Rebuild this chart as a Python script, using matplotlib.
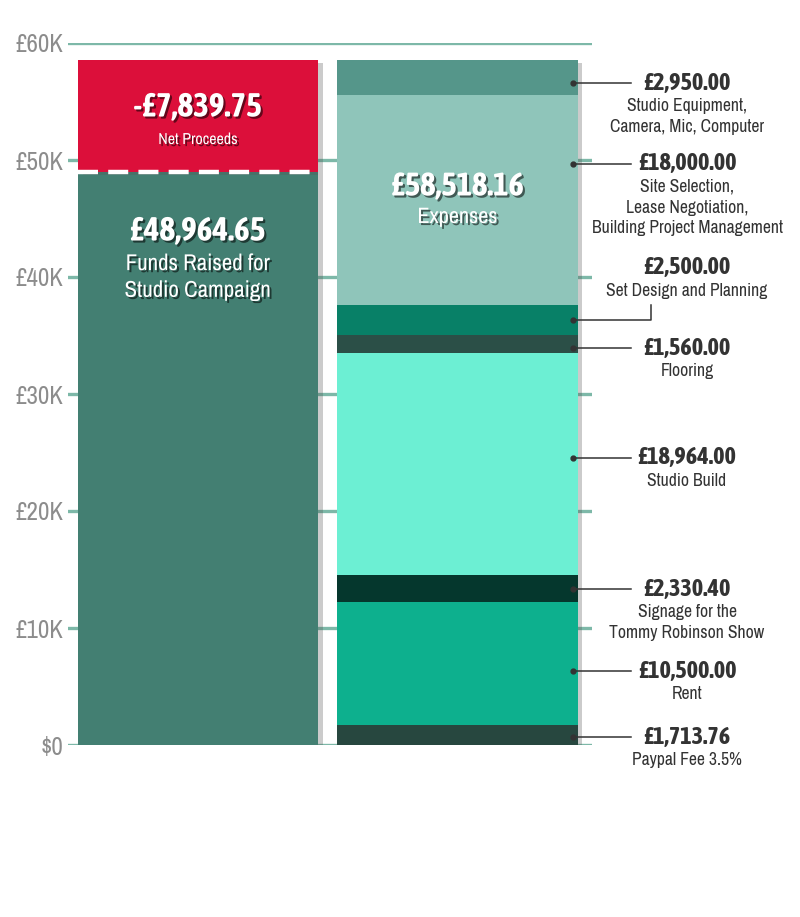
import matplotlib
matplotlib.use('Agg')
import matplotlib.pyplot as plt
import matplotlib.patheffects as pe
from matplotlib import font_manager
from matplotlib.font_manager import FontProperties
import numpy as np

# fonts: the original uses a condensed upright face; pick a regular and a bold one
def wnum(w):
    return w if isinstance(w, (int, float)) else font_manager.weight_dict.get(w, 400)

faces = [f for f in font_manager.fontManager.ttflist
         if ('Narrow' in f.name or 'Condensed' in f.name or 'condensed' in str(f.stretch))
         and f.style == 'normal']
faces.sort(key=lambda f: (f.name, f.fname))
regs = sorted(faces, key=lambda f: (abs(wnum(f.weight) - 400), f.name))
reg_face = regs[0] if regs else None
bolds = [f for f in faces if wnum(f.weight) >= 600]
if reg_face is not None:
    same = [f for f in bolds if f.name == reg_face.name]
    bolds = same or bolds
bolds.sort(key=lambda f: (abs(wnum(f.weight) - 700), f.name))
bold_face = bolds[0] if bolds else reg_face


def fp(size, bold=False):
    face = bold_face if bold else reg_face
    if face is None:
        return FontProperties(family='Roboto', size=size, weight='bold' if bold else 'normal')
    return FontProperties(fname=face.fname, size=size)


# left bar
funds_raised = 48964.65
net_proceeds = -7839.75

# right bar, bottom to top
exp_amounts = [1713.76, 10500.00, 2330.40, 18964.00, 1560.00, 2500.00, 18000.00, 2950.00]
exp_labels = ['Paypal Fee 3.5%', 'Rent', 'Signage for the\nTommy Robinson Show', 'Studio Build',
              'Flooring', 'Set Design and Planning',
              'Site Selection,\nLease Negotiation,\nBuilding Project Management',
              'Studio Equipment,\nCamera, Mic, Computer']
exp_colors = ['#27473f', '#0db08e', '#05372d', '#6cefd3', '#2b4f47', '#088067', '#8fc5ba', '#55968a']
# where the callouts sit (data units)
label_y = [680, 6320, 13330, 24530, 33930, 40770, 49660, 56580]

ticks = [0, 10000, 20000, 30000, 40000, 50000, 60000]
tick_labels = ['\\$0', '£10K', '£20K', '£30K', '£40K', '£50K', '£60K']

total_exp = sum(exp_amounts)

fig = plt.figure(figsize=(8, 9.17), dpi=100)
ax = fig.add_axes([0.085, 1 - 745 / 917, 0.655, 702 / 917])
ax.set_xlim(-0.5, 1.518)
ax.set_ylim(0, 60000)

for t in ticks:
    ax.axhline(t, color='#7db8a8', lw=2.4, zorder=0)

W = 0.925
shadow = [pe.SimplePatchShadow(offset=(3.5, -2), shadow_rgbFace='#555555', alpha=0.3), pe.Normal()]

ax.bar(0, funds_raised, width=W, color='#437f72', zorder=2, path_effects=shadow)
ax.bar(0, total_exp - funds_raised, bottom=funds_raised, width=W, color='#dc0f3a',
       zorder=2, path_effects=shadow)
ax.plot([-W / 2, W / 2], [funds_raised, funds_raised], color='white', lw=3.2,
        dashes=(4.5, 2.3), zorder=3, solid_capstyle='butt')

bottoms = np.concatenate([[0], np.cumsum(exp_amounts)[:-1]])
ax.bar([1] * len(exp_amounts), exp_amounts, bottom=bottoms, width=W, color=exp_colors,
       zorder=2)
# one shadow for the whole stack
ax.bar(1, total_exp, width=W, color='none', zorder=1,
       path_effects=[pe.SimplePatchShadow(offset=(3.5, -2), shadow_rgbFace='#555555', alpha=0.3)])

txt_shadow = [pe.withSimplePatchShadow(offset=(1.5, -1.5), shadow_rgbFace='black', alpha=0.55)]

def inner(x, y, s, size, bold=False, ls=1.2):
    ax.text(x, y, s, ha='center', va='center', color='white', fontproperties=fp(size, bold),
            path_effects=txt_shadow, zorder=5, linespacing=ls)

inner(0, 54530, '-£{:,.2f}'.format(abs(net_proceeds)), 24, True)
inner(0, 51750, 'Net Proceeds', 11.5)
inner(0, 43930, '£{:,.2f}'.format(funds_raised), 24, True)
inner(0, 39960, 'Funds Raised for\nStudio Campaign', 16.5, ls=1.42)
inner(1, 47780, '£{:,.2f}'.format(total_exp), 23.5, True)
inner(1, 45130, 'Expenses', 16)

dot_x = 1.445
line_x = 1.67
text_x = 1.884
for i, amt in enumerate(exp_amounts):
    y = label_y[i]
    if exp_labels[i].startswith('Set Design'):
        ym = bottoms[i] + amt / 2
        ax.plot([dot_x, 1.746, 1.746], [ym, ym, 37600], color='#333333', lw=1.1,
                clip_on=False, zorder=6)
        ax.plot(dot_x, ym, 'o', ms=3.5, color='#333333', clip_on=False, zorder=6)
    else:
        ax.plot([dot_x, line_x], [y, y], color='#333333', lw=1.1, clip_on=False, zorder=6)
        ax.plot(dot_x, y, 'o', ms=3.5, color='#333333', clip_on=False, zorder=6)
    ax.text(text_x, y, '£{:,.2f}'.format(amt), ha='center', va='center',
            fontproperties=fp(17.5, True), color='#333333', clip_on=False)
    ax.annotate(exp_labels[i], (text_x, y), xytext=(0, -15), textcoords='offset pixels',
                ha='center', va='top', fontproperties=fp(12.7), color='#333333',
                linespacing=1.36, annotation_clip=False)

ax.set_yticks(ticks)
ax.set_yticklabels(tick_labels, color='#8c8c8c')
for lab in ax.get_yticklabels():
    lab.set_fontproperties(fp(18))
ax.tick_params(axis='y', length=0, pad=3)
ax.set_xticks([])
for s in ax.spines.values():
    s.set_visible(False)

fig.savefig('out.png', dpi=100)
